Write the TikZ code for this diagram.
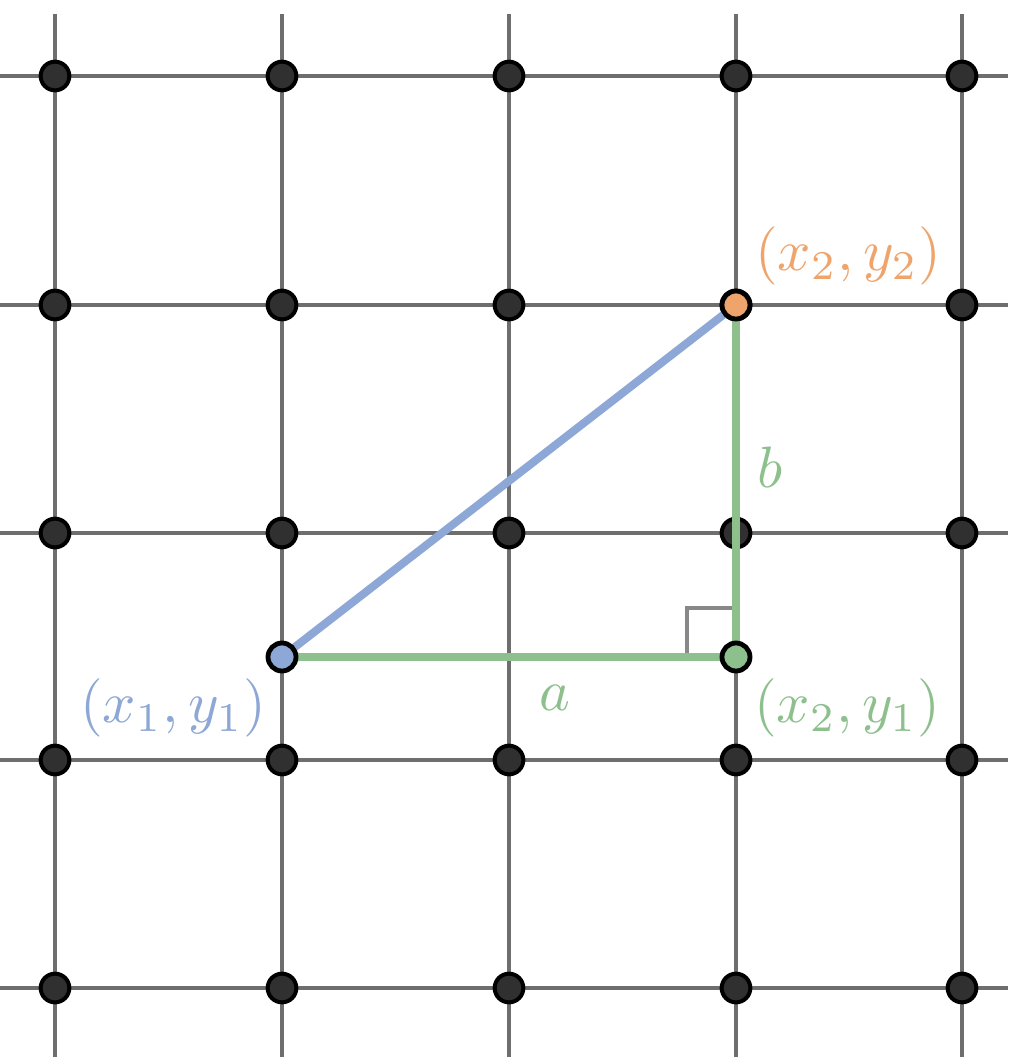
\documentclass[tikz,border=0pt]{standalone}
\definecolor{gridgray}{HTML}{6E6E6E}
\definecolor{dotfill}{HTML}{303030}
\definecolor{cblue}{HTML}{8DA7D6}
\definecolor{cgreen}{HTML}{8DC08D}
\definecolor{corange}{HTML}{EFA46B}
\definecolor{markgray}{HTML}{888888}
\tikzset{
  gridline/.style={draw=gridgray, line width=2.8pt},
  gdot/.style={circle, draw=black, fill=dotfill, line width=3pt, inner sep=0pt, minimum size=21.5pt},
  cdot/.style={circle, draw=black, line width=3.6pt, inner sep=0pt, minimum size=21pt},
  seg/.style={line width=6pt},
  lbl/.style={inner sep=0pt, scale=4.38},
}
\begin{document}
\begin{tikzpicture}[x=0.75pt, y=-0.75pt]
\useasboundingbox[fill=white] (0,0) rectangle (1008,1057);
% grid
\foreach \x in {55,282,509,736,962} \draw[gridline] (\x,14) -- (\x,1057);
\foreach \y in {76,305,533,760,988} \draw[gridline] (0,\y) -- (1008,\y);
% grid dots
\foreach \x [count=\i] in {55,282,509,736,962}
  \foreach \y [count=\j] in {76,305,533,760,988}
    \node[gdot] (g\i\j) at (\x,\y) {};
% points
\coordinate (P1) at (282,657);
\coordinate (P2) at (736,657);
\coordinate (P3) at (736,305);
% right angle marker
\coordinate (M1) at (687,657);
\coordinate (M2) at (687,608);
\coordinate (M3) at (736,608);
\draw[markgray, line width=2.3pt] (M1) -- (M2) -- (M3);
% segments
\draw[seg, cgreen] (P1) -- (P2);
\draw[seg, cgreen] (P2) -- (P3);
\draw[seg, cblue] (P1) -- (P3);
% coloured points
\node[cdot, fill=cblue] (p1) at (P1) {};
\node[cdot, fill=cgreen] (p2) at (P2) {};
\node[cdot, fill=corange] (p3) at (P3) {};
% labels
\node[lbl, text=cblue] (l1) at (173,708) {$(x_1, y_1)$};
\node[lbl, text=cgreen] (l2) at (847,708) {$(x_2, y_1)$};
\node[lbl, text=corange] (l3) at (848,256) {$(x_2, y_2)$};
\node[lbl, text=cgreen] (la) at (555,698) {$a$};
\node[lbl, text=cgreen] (lb) at (770,467) {$b$};
\end{tikzpicture}
\end{document}
